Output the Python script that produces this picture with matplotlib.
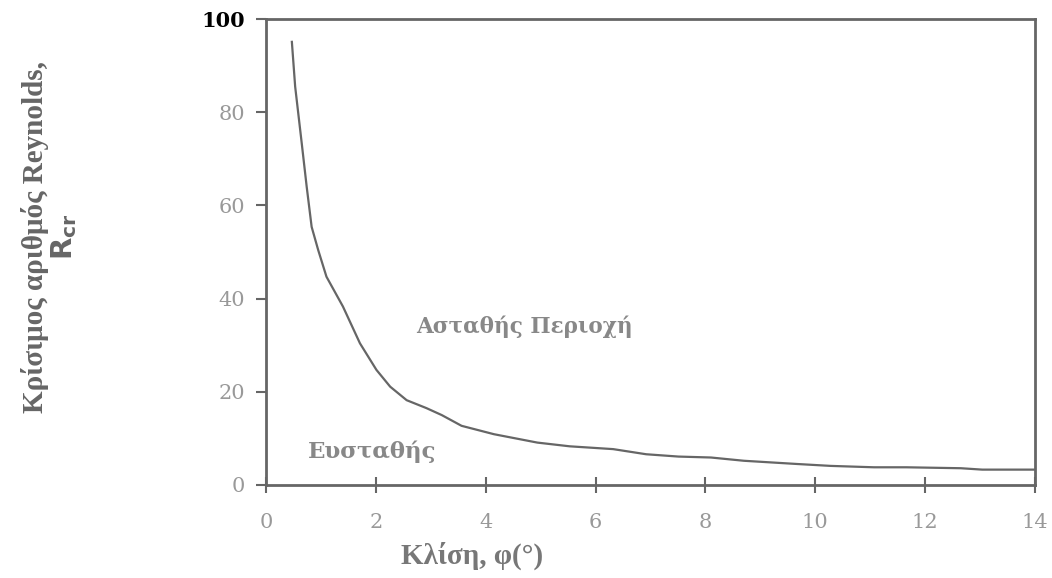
import numpy as np
import matplotlib.pyplot as plt

# Κλίση (μοίρες) και κρίσιμος αριθμός Reynolds, διαβασμένα από το γράφημα
klisi = [0.47, 0.53, 0.65, 0.74, 0.83, 0.95, 1.10, 1.40, 1.71, 2.01, 2.26, 2.56,
         2.92, 3.20, 3.56, 4.15, 4.94, 5.53, 6.32, 6.92, 7.51, 8.10, 8.70, 9.68,
         10.28, 11.07, 11.66, 12.65, 13.04, 14.0]
re_cr = [95.1, 85.5, 73.3, 64.0, 55.4, 50.4, 44.7, 38.3, 30.4, 24.7, 21.1, 18.2,
         16.5, 15.0, 12.7, 10.9, 9.1, 8.3, 7.7, 6.6, 6.1, 5.9, 5.2, 4.5,
         4.1, 3.8, 3.8, 3.6, 3.3, 3.3]

x_ticks = list(range(0, 15, 2))
y_ticks = list(range(0, 101, 20))

plt.rcParams['font.family'] = ['Liberation Serif', 'DejaVu Serif']

fig = plt.figure(figsize=(10.52, 5.78), dpi=100)
ax = fig.add_axes([0.2529, 0.1609, 0.7309, 0.8062])

ax.plot(klisi, re_cr, color='#666666', lw=1.6)

ax.set_xlim(0, 14)
ax.set_ylim(0, 100)
ax.set_xticks(x_ticks)
ax.set_yticks(y_ticks)
ax.set_xticklabels([str(v) for v in x_ticks], fontsize=15, color='#999999',
                   family='DejaVu Serif')
ax.set_yticklabels([str(v) for v in y_ticks], fontsize=15, color='#999999',
                   family='DejaVu Serif')
lab100 = ax.get_yticklabels()[-1]
lab100.set_color('black')
lab100.set_fontweight('bold')

ax.tick_params(axis='y', direction='out', length=7, width=1.5, color='#666666', pad=8)
ax.tick_params(axis='x', direction='inout', length=12, width=1.5, color='#666666', pad=14)

for s in ax.spines.values():
    s.set_color('#666666')
    s.set_linewidth(2)

ax.text(4.7, 34, 'Ασταθής Περιοχή', fontsize=15.5, fontweight='bold', color='#888888',
        ha='center', va='center', family='DejaVu Serif')
ax.text(1.93, 7.1, 'Ευσταθής', fontsize=16.5, fontweight='bold', color='#888888',
        ha='center', va='center', family='DejaVu Serif')

fig.text(472 / 1052, 1 - 556 / 578, 'Κλίση, φ(°)', fontsize=21, fontweight='bold',
         color='#777777', ha='center', va='center')
fig.text(50 / 1052, 1 - 237 / 578, 'Κρίσιμος αριθμός Reynolds,\n$\\mathbf{R_{cr}}$',
         fontsize=21, fontweight='bold', color='#666666', rotation=90,
         ha='center', va='center', multialignment='center', linespacing=1.0)

fig.savefig('out.png', dpi=100)
